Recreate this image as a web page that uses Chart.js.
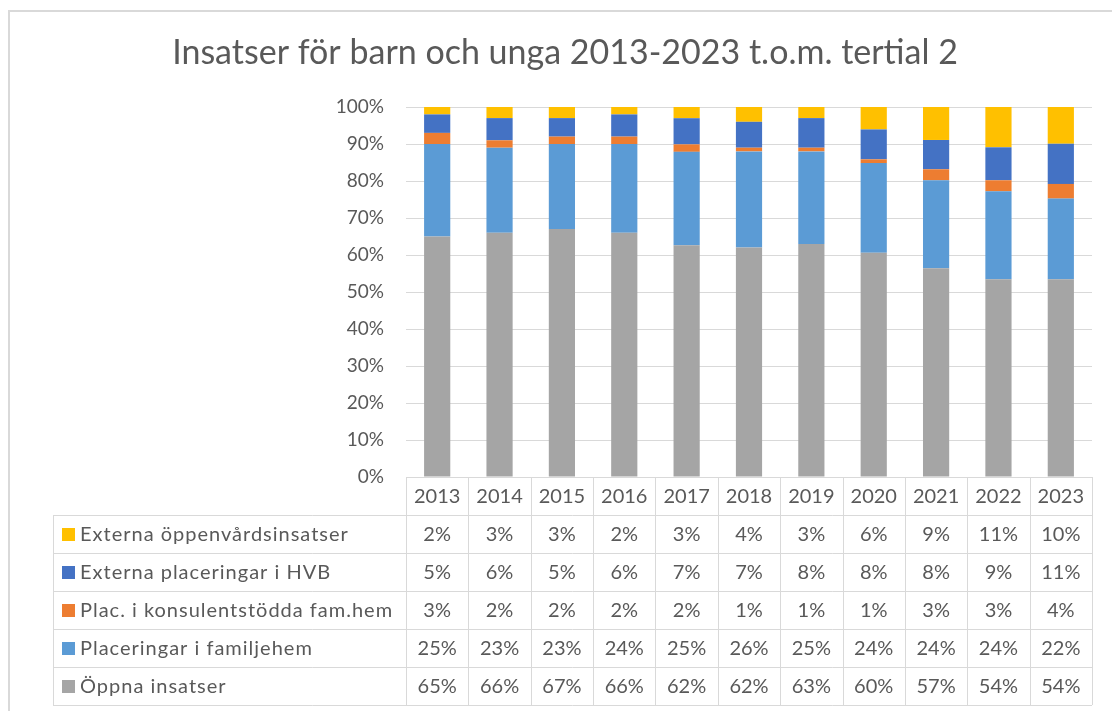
<!DOCTYPE html>
<html>
<head>
<meta charset="utf-8">
<script src="https://cdn.jsdelivr.net/npm/chart.js@4/dist/chart.umd.min.js"></script>
<style>
html,body{margin:0;padding:0;background:#fff;}
#wrap{position:relative;width:1112px;height:711px;}
</style>
</head>
<body>
<div id="wrap"><canvas id="c" width="1112" height="711"></canvas></div>
<script>
const titleText = 'Insatser för barn och unga 2013-2023 t.o.m. tertial 2';
const years = ['2013','2014','2015','2016','2017','2018','2019','2020','2021','2022','2023'];
const oppnaInsatser = [65,66,67,66,62,62,63,60,57,54,54];
const placFamiljehem = [25,23,23,24,25,26,25,24,24,24,22];
const placKonsulent = [3,2,2,2,2,1,1,1,3,3,4];
const externaHVB = [5,6,5,6,7,7,8,8,8,9,11];
const externaOppenvard = [2,3,3,2,3,4,3,6,9,11,10];
const yTicks = [0,10,20,30,40,50,60,70,80,90,100];

const seriesNames = ['Öppna insatser','Placeringar i familjehem','Plac. i konsulentstödda fam.hem','Externa placeringar i HVB','Externa öppenvårdsinsatser'];
const seriesData = [oppnaInsatser, placFamiljehem, placKonsulent, externaHVB, externaOppenvard];
const seriesColors = ['#A5A5A5','#5B9BD5','#ED7D31','#4472C4','#FFC000'];

const totals = years.map((_, i) => seriesData.reduce((s, arr) => s + arr[i], 0));

const FONT = 'Lato, "Open Sans", sans-serif';
const TXT = '#595959';
const LINE = '#D9D9D9';

const datasets = seriesData.map((arr, k) => ({
  label: seriesNames[k],
  data: arr.map((v, i) => v / totals[i] * 100),
  backgroundColor: seriesColors[k],
  borderWidth: 0,
  categoryPercentage: 1,
  barPercentage: 0.42
}));

const tablePlugin = {
  id: 'tablePlugin',
  beforeDraw(chart) {
    const ctx = chart.ctx;
    ctx.save();
    ctx.fillStyle = '#fff';
    ctx.fillRect(0, 0, chart.width, chart.height);
    ctx.strokeStyle = LINE;
    ctx.lineWidth = 2;
    ctx.strokeRect(9, 11, 1200, 800);
    ctx.fillStyle = TXT;
    ctx.font = '400 34px ' + FONT;
    ctx.textAlign = 'center';
    ctx.textBaseline = 'middle';
    ctx.fillText(titleText, 565, 53);
    ctx.restore();
  },
  afterDraw(chart) {
    const ctx = chart.ctx;
    const xs = chart.scales.x;
    const area = chart.chartArea;
    const half = (xs.getPixelForValue(1) - xs.getPixelForValue(0)) / 2;
    const left = xs.getPixelForValue(0) - half;
    const right = xs.getPixelForValue(years.length - 1) + half;
    const top = area.bottom;
    const headerH = 38;
    const rowH = 38;
    const legendLeft = 53;
    const rows = [4,3,2,1,0];
    const bottom = top + headerH + rowH * rows.length;
    ctx.save();
    ctx.strokeStyle = LINE;
    ctx.lineWidth = 1;
    ctx.beginPath();
    ctx.moveTo(left, top + 0.5); ctx.lineTo(right, top + 0.5);
    for (let r = 0; r <= rows.length; r++) {
      const y = Math.round(top + headerH + r * rowH) + 0.5;
      ctx.moveTo(legendLeft, y); ctx.lineTo(right, y);
    }
    for (let i = 0; i <= years.length; i++) {
      const x = Math.round(left + i * 2 * half) + 0.5;
      ctx.moveTo(x, top); ctx.lineTo(x, bottom);
    }
    ctx.moveTo(legendLeft + 0.5, top + headerH); ctx.lineTo(legendLeft + 0.5, bottom);
    ctx.stroke();

    ctx.fillStyle = TXT;
    ctx.font = '20px ' + FONT;
    ctx.textBaseline = 'middle';
    ctx.textAlign = 'center';
    years.forEach((y, i) => ctx.fillText(y, xs.getPixelForValue(i), top + headerH / 2 + 1));
    rows.forEach((k, r) => {
      const cy = top + headerH + r * rowH + rowH / 2 + 1;
      ctx.textAlign = 'center';
      ctx.fillStyle = TXT;
      ctx.letterSpacing = '0px';
      seriesData[k].forEach((v, i) => ctx.fillText(v + '%', xs.getPixelForValue(i), cy));
      ctx.fillStyle = seriesColors[k];
      ctx.fillRect(62, Math.round(cy - 7), 13, 13);
      ctx.fillStyle = TXT;
      ctx.textAlign = 'left';
      ctx.letterSpacing = '1px';
      ctx.fillText(seriesNames[k], 80, cy);
    });
    ctx.restore();
  }
};

new Chart(document.getElementById('c'), {
  type: 'bar',
  data: { labels: years, datasets },
  options: {
    responsive: false,
    animation: false,
    layout: { padding: { top: 107, bottom: 234, left: 0, right: 20 } },
    plugins: { legend: { display: false }, tooltip: { enabled: false }, title: { display: false } },
    scales: {
      x: { stacked: true, display: false },
      y: {
        stacked: true,
        min: 0, max: 100,
        afterFit(scale) { scale.width = 406; },
        afterBuildTicks(scale) { scale.ticks = yTicks.map(v => ({ value: v })); },
        border: { display: false },
        grid: { color: LINE, drawTicks: false, lineWidth: 1 },
        ticks: {
          padding: 22,
          color: TXT,
          font: { family: FONT, size: 19 },
          callback: v => v + '%'
        }
      }
    }
  },
  plugins: [tablePlugin]
});
</script>
</body>
</html>
